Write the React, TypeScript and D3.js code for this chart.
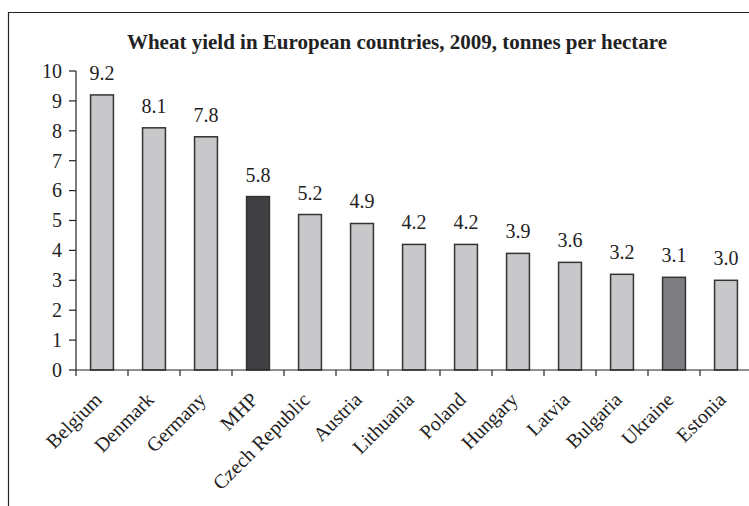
import React from "react";
import * as d3 from "d3";

const countries = [
  "Belgium", "Denmark", "Germany", "MHP", "Czech Republic", "Austria",
  "Lithuania", "Poland", "Hungary", "Latvia", "Bulgaria", "Ukraine", "Estonia",
];
const yields = [9.2, 8.1, 7.8, 5.8, 5.2, 4.9, 4.2, 4.2, 3.9, 3.6, 3.2, 3.1, 3.0];
const yTicks = [0, 1, 2, 3, 4, 5, 6, 7, 8, 9, 10];
const title = "Wheat yield in European countries, 2009, tonnes per hectare";

const W = 749;
const H = 506;
const FONT = "Liberation Serif, Times New Roman, serif";

function barFill(name: string): string {
  if (name === "MHP") return "#404042";
  if (name === "Ukraine") return "#7e7e82";
  return "#c8c8ca";
}

export default function App() {
  const x = d3.scaleBand<string>().domain(countries).range([76, 752]).paddingInner(0.56).paddingOuter(0.28);
  const y = d3.scaleLinear().domain([0, 10]).range([370, 71]);
  const step = x.step();
  const boundaries = d3.range(countries.length + 1).map((i) => 76 + i * step);

  return (
    <svg
      width={W}
      height={H}
      style={{ position: "absolute", left: 0, top: 0, background: "#fff", fontFamily: FONT }}
    >
      {/* outer frame, open to the right and bottom */}
      <path d={`M8.5,${H} V12.5 H${W}`} fill="none" stroke="#222" strokeWidth={1.2} />

      <text x={397} y={49} textAnchor="middle" fontWeight="bold" fontSize={21} fill="#222">
        {title}
      </text>

      {/* y axis */}
      <line x1={76} x2={76} y1={y(10)} y2={y(0)} stroke="#222" strokeWidth={1.2} />
      {yTicks.map((t) => (
        <g key={t}>
          <line x1={69} x2={76} y1={y(t)} y2={y(t)} stroke="#222" strokeWidth={1.2} />
          <text x={62} y={y(t)} dy="0.34em" textAnchor="end" fontSize={20} fill="#222">
            {t}
          </text>
        </g>
      ))}

      {/* bars */}
      {countries.map((c, i) => (
        <g key={c}>
          <rect
            x={x(c)}
            y={y(yields[i])}
            width={x.bandwidth()}
            height={y(0) - y(yields[i])}
            fill={barFill(c)}
            stroke="#333"
            strokeWidth={1.5}
          />
          <text
            x={(x(c) as number) + x.bandwidth() / 2}
            y={y(yields[i]) - 15}
            textAnchor="middle"
            fontSize={20}
            fill="#222"
          >
            {yields[i].toFixed(1)}
          </text>
        </g>
      ))}

      {/* category axis */}
      <line x1={76} x2={W} y1={y(0)} y2={y(0)} stroke="#222" strokeWidth={1.2} />
      {boundaries.map((bx, i) => (
        <line key={i} x1={bx} x2={bx} y1={y(0)} y2={y(0) + 6} stroke="#222" strokeWidth={1.2} />
      ))}
      {countries.map((c) => {
        const cx = (x(c) as number) + x.bandwidth() / 2;
        return (
          <text
            key={c}
            transform={`translate(${cx + 1},${y(0) + 31}) rotate(-45)`}
            textAnchor="end"
            fontSize={20}
            fill="#222"
          >
            {c}
          </text>
        );
      })}
    </svg>
  );
}
